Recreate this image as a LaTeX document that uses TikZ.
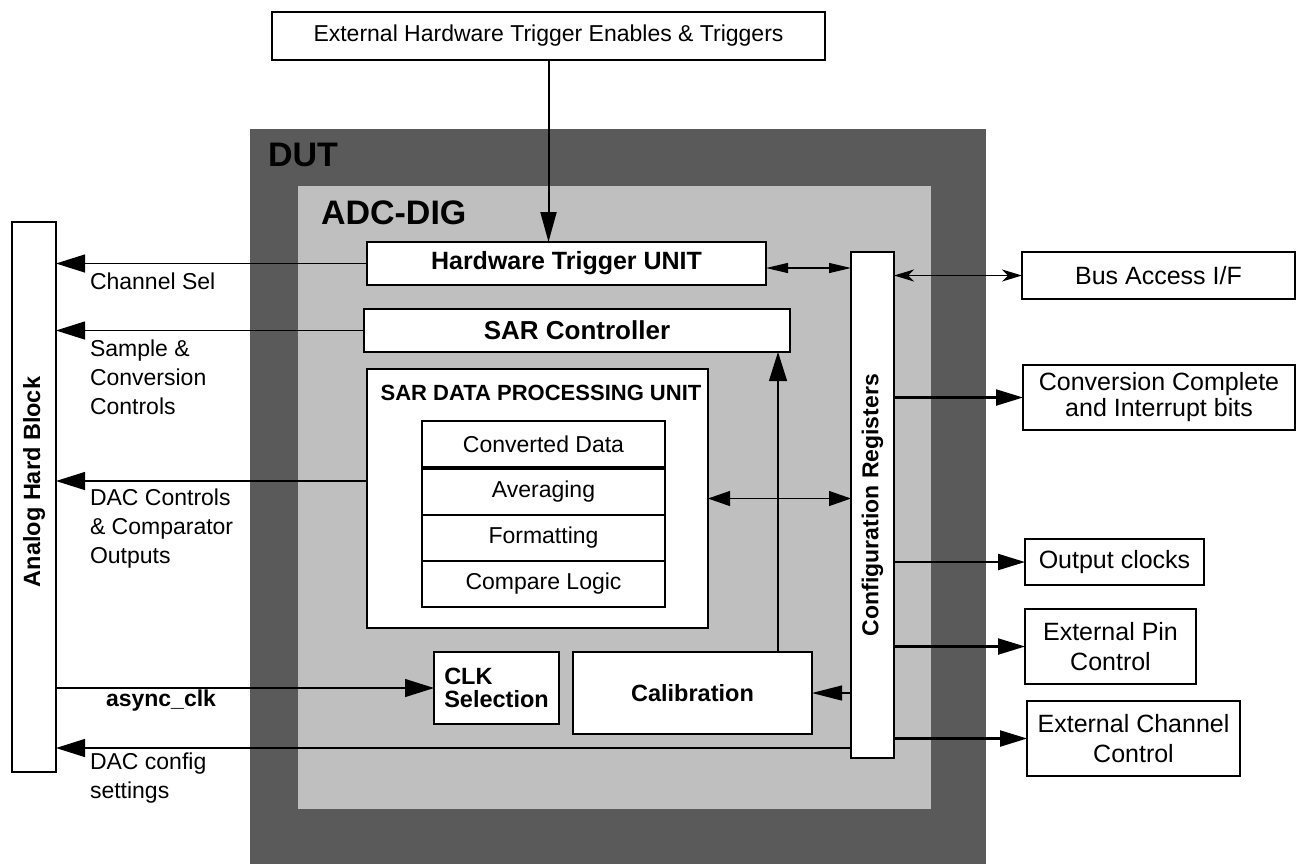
\documentclass[tikz,border=0pt]{standalone}
\usepackage{fontspec}
\setmainfont{Liberation Sans}
\usetikzlibrary{arrows.meta}
\definecolor{dutgray}{RGB}{90,90,90}
\definecolor{adcgray}{RGB}{191,191,191}
\newcommand{\txt}{\fontsize{11.5}{14.5}\selectfont}
\newcommand{\boxtxt}{\fontsize{12.5}{15}\selectfont}
\newcommand{\hdtxt}{\fontsize{17}{20}\selectfont\bfseries}
\begin{document}
\begin{tikzpicture}[x=0.5pt,y=-0.5pt,
    every node/.style={inner sep=0,outer sep=0,font=\txt},
    blk/.style={draw,line width=1.4pt,fill=white},
    thinblk/.style={draw,line width=0.7pt,fill=white},
    outblk/.style={draw,line width=1.3pt,fill=white,font=\boxtxt,align=center},
    sig/.style={line width=0.6pt,-{Triangle[length=14.5pt,width=9pt]}},
    toparr/.style={line width=1pt,-{Triangle[length=15pt,width=8pt]}},
    calarr/.style={line width=0.6pt,-{Triangle[length=15pt,width=7.5pt]}},
    outsig/.style={line width=1.1pt,-{Triangle[length=13.5pt,width=8pt]}},
    dblsm/.style={line width=0.6pt,{Triangle[length=11pt,width=5pt]}-{Triangle[length=11pt,width=5pt]}},
    dblmd/.style={line width=0.6pt,{Triangle[length=11pt,width=7.5pt]}-{Triangle[length=11pt,width=7.5pt]}},
    bussig/.style={line width=0.6pt,{Stealth[length=10pt,width=6pt,inset=3pt]}-{Stealth[length=10pt,width=6pt,inset=3pt]}}]
\useasboundingbox (0,0) rectangle (1299,864);
\fill[dutgray] (250,129) rectangle (986,864);
\fill[adcgray] (298,186) rectangle (931,809);
\node[font=\hdtxt,anchor=west] (dut) at (268,155) {DUT};
\node[font=\hdtxt,anchor=west] (adc) at (321,213) {ADC-DIG};

\node[thinblk,minimum width=276.5pt,minimum height=24pt] (trig) at (548.5,36) {External Hardware Trigger Enables \& Triggers};
\node[blk,minimum width=22pt,minimum height=275pt,font=\fontsize{11.75}{14}\selectfont\bfseries] (ahb) at (34,497) {\rotatebox{90}{\hspace{15pt}Analog Hard Block}};

\node[blk,minimum width=199.5pt,minimum height=21.5pt,font=\fontsize{12.5}{15}\selectfont\bfseries] (hwt) at (566.5,263.5) {Hardware Trigger UNIT};
\node[blk,minimum width=213pt,minimum height=21.5pt,font=\fontsize{13}{16}\selectfont\bfseries] (sarc) at (577,330.5) {SAR Controller};
\node[thinblk,minimum width=170.5pt,minimum height=129.5pt] (sdpu) at (537.5,498.5) {};
\node[font=\fontsize{11}{13}\selectfont\bfseries] (sdput) at (541,393) {SAR DATA PROCESSING UNIT};
\node[blk,minimum width=121.5pt,minimum height=23.5pt] (cdata) at (543.5,444.5) {Converted Data};
\node[blk,minimum width=121.5pt,minimum height=23.5pt] (avg) at (543.5,491.5) {Averaging};
\node[blk,minimum width=121.5pt,minimum height=23pt] (fmt) at (543.5,538) {Formatting};
\node[blk,minimum width=121.5pt,minimum height=23pt] (cmp) at (543.5,584) {Compare Logic};
\draw[line width=2.4pt] (cdata.south west) -- (cdata.south east);

\node[draw,line width=0.6pt,fill=white,minimum width=21.5pt,minimum height=253pt,font=\txt\bfseries] (cfg) at (872.5,505) {\rotatebox{90}{Configuration Registers}};
\node[blk,minimum width=62.5pt,minimum height=36pt,align=left,font=\fontsize{11.75}{11.5}\selectfont\bfseries] (clks) at (496.5,688) {CLK\\Selection};
\node[blk,minimum width=119.5pt,minimum height=41pt,font=\fontsize{11.75}{14}\selectfont\bfseries] (calib) at (692.5,693) {Calibration};

\node[outblk,minimum width=136.5pt,minimum height=23.5pt] (bus) at (1158.5,275.5) {Bus Access I/F};
\node[outblk,minimum width=136pt,minimum height=32.5pt,font=\fontsize{12.5}{13}\selectfont] (conv) at (1159,397.5) {Conversion Complete\\and Interrupt bits};
\node[outblk,minimum width=89.5pt,minimum height=23pt] (oclk) at (1114.5,562) {Output clocks};
\node[outblk,minimum width=85.5pt,minimum height=37.5pt] (epin) at (1110.5,646.5) {External Pin\\Control};
\node[outblk,minimum width=106.5pt,minimum height=37.5pt] (ech) at (1133.5,738.5) {External Channel\\Control};

\draw[toparr] (trig) -- (trig |- hwt.north);
\draw[sig] (hwt.west) -- (hwt.west -| ahb.east);
\draw[sig] (sarc.west) -- (sarc.west -| ahb.east);
\coordinate (dacout) at ([yshift=8.75pt]sdpu.west);
\draw[sig] (dacout) -- (dacout -| ahb.east);
\coordinate (hwtout) at ([yshift=-2.25pt]hwt.east);
\draw[dblsm] (hwtout) -- (hwtout -| cfg.west);
\draw[dblmd] (sdpu.east) -- (sdpu.east -| cfg.west);
\coordinate (calx) at ([xshift=42.75pt]calib.north);
\draw[sig] (calx) -- (calx |- sarc.south);
\draw[calarr] (cfg.west |- calib.east) -- (calib.east);
\draw[sig] (ahb.east |- clks.west) -- (clks.west);
\coordinate (dcfg) at ([yshift=5pt]cfg.south west);
\draw[sig] (dcfg) -- (dcfg -| ahb.east);

\draw[bussig] (bus.west -| cfg.east) -- (bus.west);
\draw[outsig] (conv.west -| cfg.east) -- (conv.west);
\draw[outsig] (oclk.west -| cfg.east) -- (oclk.west);
\draw[outsig] (epin.west -| cfg.east) -- (epin.west);
\draw[outsig] (ech.west -| cfg.east) -- (ech.west);

\node[anchor=west] (lbcs) at (90,281) {Channel Sel};
\node[anchor=west,align=left] (lbsc) at (90,377.5) {Sample \&\\Conversion\\Controls};
\node[anchor=west,align=left] (lbdac) at (90,528.5) {DAC Controls\\\& Comparator\\Outputs};
\node[font=\txt\bfseries] (lbclk) at (161,701) {async\_clk};
\node[anchor=west,align=left] (lbdcfg) at (90,778.5) {DAC config\\settings};
\end{tikzpicture}
\end{document}
